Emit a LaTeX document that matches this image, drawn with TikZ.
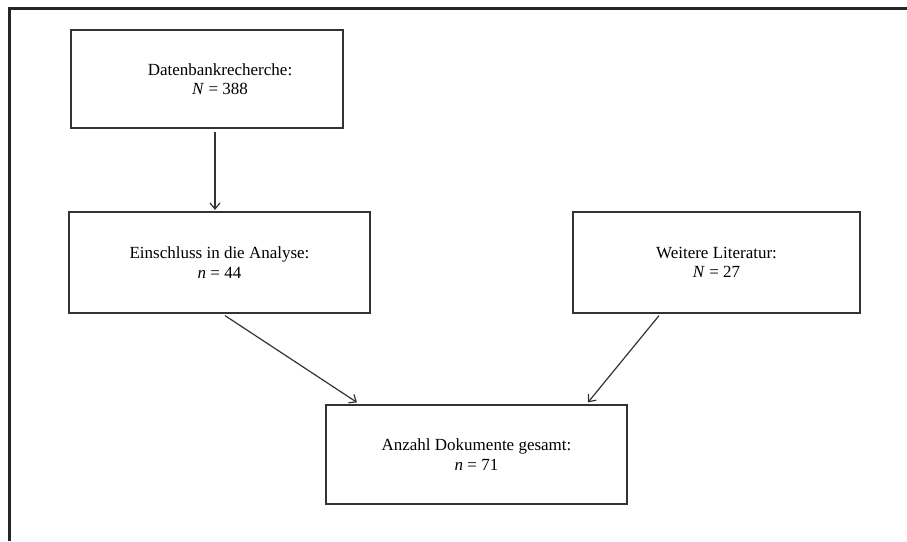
\documentclass[tikz,border=0pt]{standalone}
\usepackage{fontspec}
\setmainfont{Liberation Serif}
\usepackage{tikz}
\usetikzlibrary{positioning, arrows.meta}
\tikzset{stepbox/.style={draw=black!80, line width=1.2pt, align=center, inner sep=0pt,
        font=\fontsize{17}{19.5}\selectfont},
    arr/.style={draw=black!80, line width=1.2pt, -{Straight Barb[length=6pt, width=10pt]}}}

\begin{document}
\begin{tikzpicture}[x=1pt, y=-1pt]
                \useasboundingbox (0,0) rectangle (907,541);
                 % outer frame
                 \draw[line width=3pt, black!85] (9,541) -- (9,8.5) -- (907,8.5);

                 \node[stepbox, minimum width=272pt, minimum height=98pt] (db) at (207,79) {\hspace*{26pt}Datenbankrecherche:\\ \hspace*{26pt}\textit{N} = 388};
                 \node[stepbox, minimum width=301pt, minimum height=101pt] (ein) at (219.5,262.5) {Einschluss in die Analyse:\\ \textit{n} = 44};
                 \node[stepbox, minimum width=287pt, minimum height=101pt] (lit) at (716.5,262.5) {Weitere Literatur:\\ \textit{N} = 27};
                 \node[stepbox, minimum width=301pt, minimum height=99pt] (ges) at (476.5,454.5) {Anzahl Dokumente gesamt:\\ \textit{n} = 71};

                 \draw[arr] ([xshift=8pt, yshift=-3pt]db.south) -- ([xshift=-4.5pt, yshift=1.5pt]ein.north);
                 \draw[arr] ([xshift=5.5pt, yshift=-2pt]ein.south) -- ([xshift=-119.5pt, yshift=2pt]ges.north);
                 \draw[arr] ([xshift=-57.5pt, yshift=-2pt]lit.south) -- ([xshift=111.5pt, yshift=2pt]ges.north);
           \end{tikzpicture}
\end{document}
